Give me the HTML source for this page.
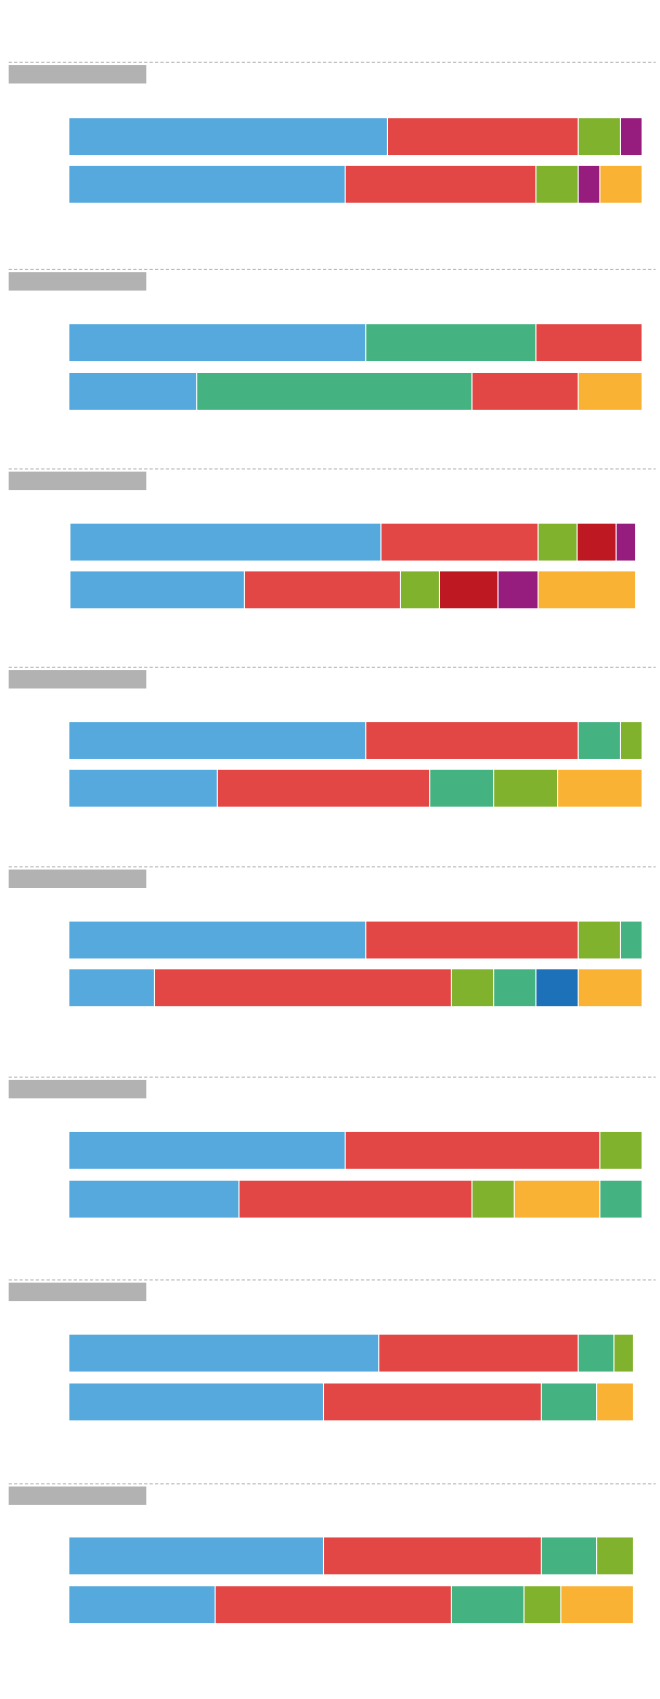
<!DOCTYPE html>
<html><head><meta charset="utf-8"><style>html,body{margin:0;padding:0;background:#fff}svg{display:block}</style></head>
<body>
<svg width="660" height="1699" viewBox="0 0 609 1567" preserveAspectRatio="none" xmlns="http://www.w3.org/2000/svg">
<g id="c"></g>
</svg>
<script>
const C={b:'#55a9dd',r:'#e24745',g:'#80b22e',p:'#961c7e',o:'#f9b233',t:'#45b281',d:'#be1823',n:'#1d71b8'};
const S=[
[57,[[109,64,[['b',357],['r',533],['g',572],['p',592]]],[153,64,[['b',318],['r',494],['g',533],['p',553],['o',592]]]]],
[248,[[299,64,[['b',337],['t',494],['r',592]]],[344,64,[['b',181],['t',435],['r',533],['o',592]]]]],
[432,[[483,65,[['b',351],['r',496],['g',532],['d',568],['p',586]]],[527,65,[['b',225],['r',369],['g',405],['d',459],['p',496],['o',586]]]]],
[615,[[666,64,[['b',337],['r',533],['t',572],['g',592]]],[710,64,[['b',200],['r',396],['t',455],['g',514],['o',592]]]]],
[799,[[850,64,[['b',337],['r',533],['g',572],['t',592]]],[894,64,[['b',142],['r',416],['g',455],['t',494],['n',533],['o',592]]]]],
[993,[[1044,64,[['b',318],['r',553],['g',592]]],[1089,64,[['b',220],['r',435],['g',474],['o',553],['t',592]]]]],
[1180,[[1231,64,[['b',349],['r',533],['t',566],['g',584]]],[1276,64,[['b',298],['r',499],['t',550],['o',584]]]]],
[1368,[[1418,64,[['b',298],['r',499],['t',550],['g',584]]],[1463,64,[['b',198],['r',416],['t',483],['g',517],['o',584]]]]]
];
let h='';
for(const [ly,bars] of S){
 h+=`<line x1="8" x2="605" y1="${ly}.5" y2="${ly}.5" stroke="#bbb" stroke-width="1" stroke-dasharray="3,2"/>`;
 h+=`<rect x="8" y="${ly+3}" width="127" height="17" fill="#b2b2b2"/>`;
 for(const [y,x0,segs] of bars){
  let x=x0;
  for(const [c,e] of segs){h+=`<rect x="${x}" y="${y}" width="${e-x}" height="34" fill="${C[c]}"/>`;x=e+1;}
 }
}
document.getElementById('c').innerHTML=h;
</script>
</body></html>
